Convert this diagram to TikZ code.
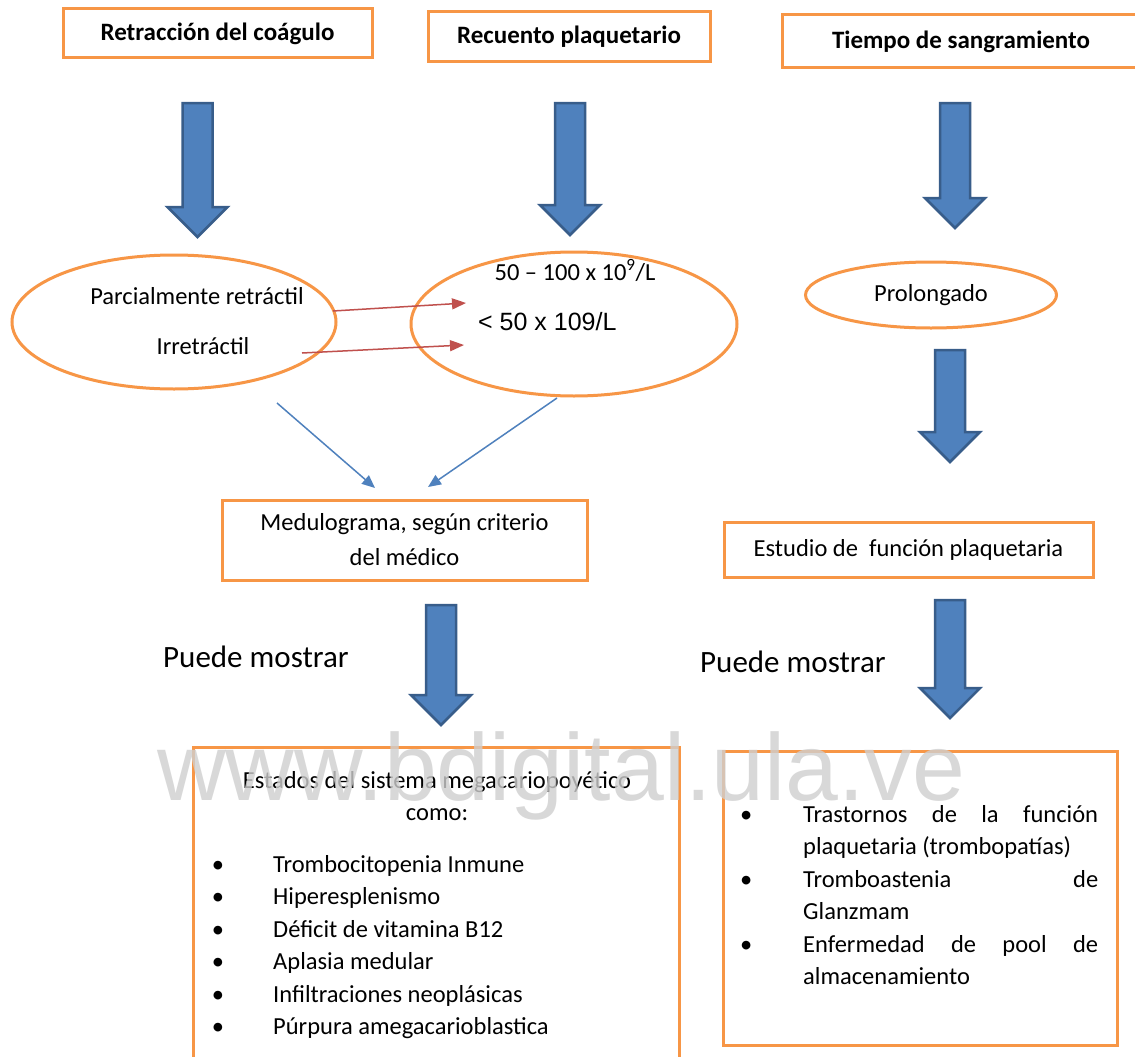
\documentclass[tikz,border=0pt]{standalone}
\usepackage{fontspec}
\setmainfont{Carlito}
\newfontfamily\arialfont{Liberation Sans}
\usetikzlibrary{arrows.meta,positioning,shapes.geometric}
\definecolor{BoxOrange}{HTML}{F79646}
\definecolor{ArrowBlue}{HTML}{4F81BD}
\definecolor{ArrowEdge}{HTML}{385D8A}
\definecolor{PointerRed}{HTML}{C0504D}
\definecolor{MarkGray}{HTML}{CFCFCF}

% big block arrow: x, top, tip
\newcommand{\blockarrow}[3]{%
  \filldraw[bigarrow] (#1-15,#2) -- (#1+15,#2) -- (#1+15,#3-30) -- (#1+30,#3-30)
    -- (#1,#3) -- (#1-30,#3-30) -- (#1-15,#3-30) -- cycle;}

\begin{document}
\begin{tikzpicture}[
  x=1pt, y=-1pt,
  box/.style={draw=BoxOrange,line width=3pt,fill=white,inner sep=0pt,align=center,
    font=\fontsize{24.5}{35}\selectfont},
  head/.style={box,font=\bfseries\fontsize{25}{30}\selectfont},
  oval/.style={ellipse,draw=BoxOrange,line width=3pt,inner sep=0pt},
  txt/.style={inner sep=0pt,font=\fontsize{24.5}{32.5}\selectfont},
  big/.style={inner sep=0pt,font=\fontsize{31}{36}\selectfont},
  bigarrow/.style={fill=ArrowBlue,draw=ArrowEdge,line width=2.5pt},
  pointer/.style={-{Triangle[length=14pt,width=11pt]},PointerRed,line width=1.5pt},
  link/.style={-{Triangle[length=13pt,width=11pt]},ArrowBlue,line width=1.5pt}
]
  \fill[white] (0,0) rectangle (1135,1057);
  \useasboundingbox (0,0) rectangle (1135,1057);

  % top row
  \node[head,minimum width=309pt,minimum height=49pt] (retr) at (217.5,33.5) {Retracción del coágulo};
  \node[head,minimum width=282pt,minimum height=50pt] (recu) at (569,37) {Recuento plaquetario};
  \node[head,minimum width=358pt,minimum height=53pt] (tiem) at (961,41.5) {Tiempo de sangramiento};

  \blockarrow{197.5}{103}{237}
  \blockarrow{570}{103}{235}
  \blockarrow{955}{103}{228}

  % ovals
  \node[oval,minimum width=324pt,minimum height=134pt] (coag) at (174,322) {};
  \node[oval,minimum width=326pt,minimum height=144pt] (plaq) at (574,324) {};
  \node[oval,minimum width=251pt,minimum height=66pt,font=\fontsize{24.5}{30}\selectfont] (prol) at (931,295) {Prolongado};

  \node[txt,anchor=base] (parc) at (197,304) {Parcialmente retráctil};
  \node[txt,anchor=base] (irre) at (203,354) {Irretráctil};
  \node[txt,anchor=base] (rango) at (575,280) {50 – 100 x 10\textsuperscript{9}/L};
  \node[txt,anchor=base west,font=\arialfont\fontsize{25}{30}\selectfont] (menor) at (478,330) {< 50 x 109/L};

  \coordinate (p1) at (333,311);
  \coordinate (p1e) at (466,303);
  \coordinate (p2) at (302,353);
  \coordinate (p2e) at (464,345);
  \draw[pointer] (p1) -- (p1e);
  \draw[pointer] (p2) -- (p2e);

  \blockarrow{950}{350}{462}

  % middle row
  \node[box,minimum width=365pt,minimum height=80pt] (medu) at (404.5,540) {Medulograma, según criterio\\del médico};
  \node[box,minimum width=369pt,minimum height=55pt] (estu) at (908.5,549.5) {Estudio de~ función plaquetaria};

  \coordinate (l1) at (277,403);
  \coordinate (l1e) at (375,488);
  \coordinate (l2) at (557,398);
  \coordinate (l2e) at (428,487);
  \draw[link] (l1) -- (l1e);
  \draw[link] (l2) -- (l2e);

  \node[big,anchor=base west] (puedeA) at (163,667) {Puede mostrar};
  \node[big,anchor=base west] (puedeB) at (700,672) {Puede mostrar};

  \blockarrow{441}{605}{725}
  \blockarrow{950}{600}{718}

  % bottom boxes
  \node[box,minimum width=486pt,minimum height=340pt] (esta) at (436,917) {};
  \node[box,minimum width=394pt,minimum height=294pt] (tras) at (920,898) {};

  \node[txt,anchor=base] (estados) at (437,788) {Estados del sistema megacariopoyético};
  \node[txt,anchor=base] (como) at (437,820) {como:};
  \foreach \entry [count=\i] in {Trombocitopenia Inmune,Hiperesplenismo,Déficit de vitamina B12,
      Aplasia medular,Infiltraciones neoplásicas,Púrpura amegacarioblastica}{
    \node[txt,anchor=base] (dot\i) at (218,{872+32.5*(\i-1)}) {\textbullet};
    \node[txt,anchor=base west] (item\i) at (273,{872+32.5*(\i-1)}) {\entry};
  }

  \node[txt,anchor=north west,text width=358pt,align=justify] (lista) at (740,805) {%
    \hyphenpenalty=10000\exhyphenpenalty=10000
    \hangindent=63pt\hangafter=1\noindent\makebox[63pt][l]{\textbullet}Trastornos de la función plaquetaria (trombopatías)\par
    \hangindent=63pt\hangafter=1\noindent\makebox[63pt][l]{\textbullet}Tromboastenia de\linebreak Glanzmam\par
    \hangindent=63pt\hangafter=1\noindent\makebox[63pt][l]{\textbullet}Enfermedad de pool de almacenamiento\par};

  % watermark
  \node[inner sep=0pt,anchor=base west,text=MarkGray,opacity=0.8,
    font=\arialfont\fontsize{95}{95}\selectfont] (marca) at (157,800) {www.bdigital.ula.ve};
\end{tikzpicture}
\end{document}
